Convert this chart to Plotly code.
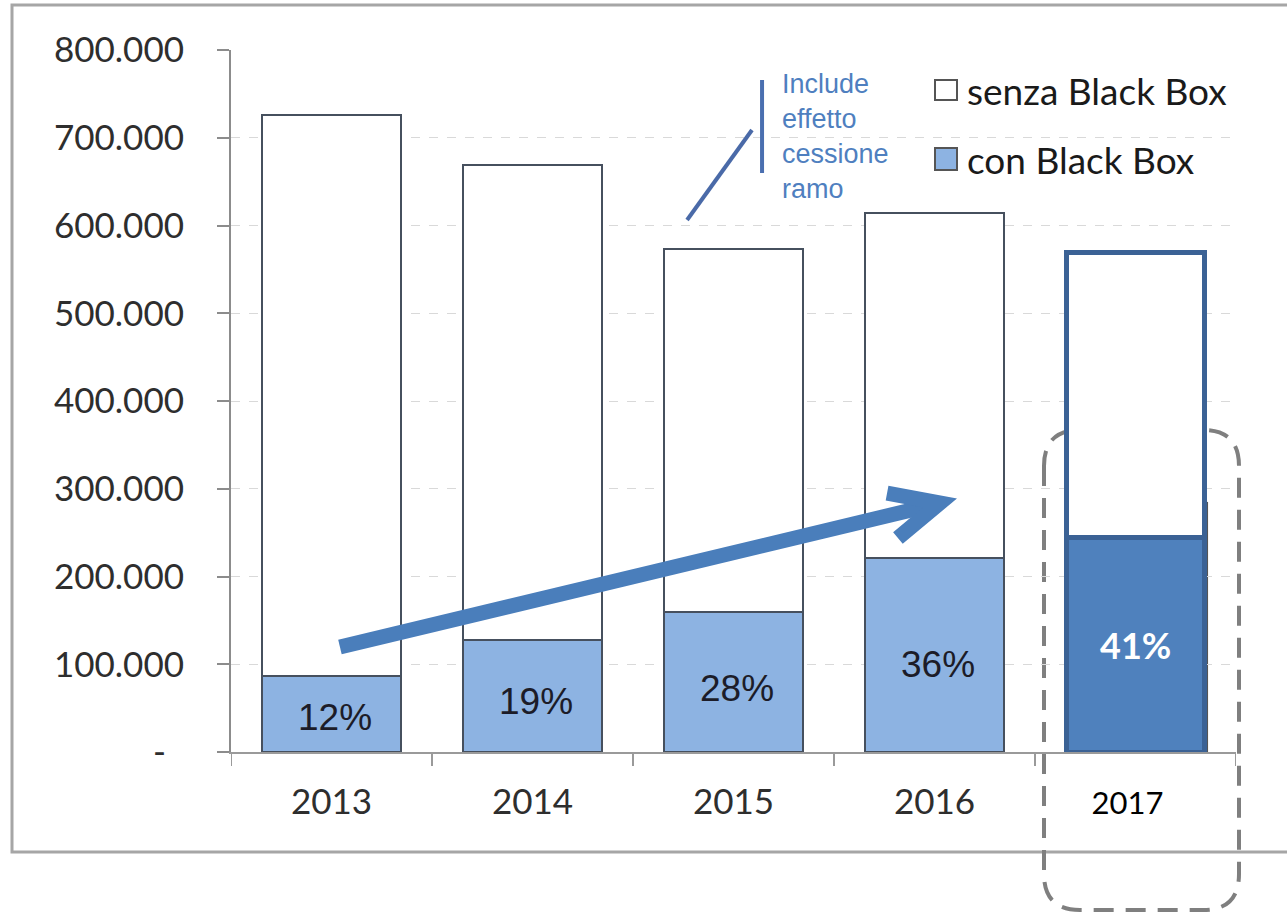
import plotly.graph_objects as go

# ---- data ----
years = ["2013", "2014", "2015", "2016", "2017"]
totale = [726000, 669000, 573000, 614000, 569000]
con_black_box = [87000, 128000, 160000, 221000, 245000]
senza_black_box = [t - c for t, c in zip(totale, con_black_box)]
pct_labels = ["12%", "19%", "28%", "36%", "41%"]
y_tickvals = [0, 100000, 200000, 300000, 400000, 500000, 600000, 700000, 800000]
y_ticktext = ["-\u00a0\u00a0", "100.000", "200.000", "300.000", "400.000",
              "500.000", "600.000", "700.000", "800.000"]
x_ticktext = ["2013", "2014", "2015", "2016",
              '<span style="font-family:Lato;color:#000000;font-size:31px">2017\u00a0\u00a0</span>']
legend_labels = ["senza Black Box", "con Black Box"]
note_text = "Include<br>effetto<br>cessione<br>ramo"

# ---- styles ----
light_blue = "#8db3e2"
dark_blue = "#4f81bd"
edge_gray = "#46505e"
edge_blue = "#3b6295"
arrow_col = "#4a7ebb"
xpos = list(range(len(years)))

fig = go.Figure()
fig.add_trace(go.Bar(
    x=xpos, y=con_black_box, name=legend_labels[1],
    marker=dict(color=[light_blue] * 4 + [dark_blue],
                line=dict(color=[edge_gray] * 4 + [edge_blue], width=[2, 2, 2, 2, 5])),
    hoverinfo="skip", showlegend=False,
))
fig.add_trace(go.Bar(
    x=xpos, y=senza_black_box, name=legend_labels[0],
    marker=dict(color="#ffffff",
                line=dict(color=[edge_gray] * 4 + [edge_blue], width=[2, 2, 2, 2, 5])),
    hoverinfo="skip", showlegend=False,
))

# percentage labels
for i, (lab, v) in enumerate(zip(pct_labels, con_black_box)):
    last = i == len(years) - 1
    fig.add_annotation(
        x=xpos[i], y=v * (0.5 if last else 0.45), text=lab, showarrow=False,
        xshift=0 if last else 3,
        font=dict(family="Lato" if last else "Liberation Sans",
                  size=36 if last else 37,
                  color="#ffffff" if last else "#1c1c28",
                  weight="bold" if last else "normal"),
    )

px = lambda v: (v - 231) / 1005
py = lambda v: (752 - v) / 702

shapes = []
# outer frame
shapes.append(dict(type="rect", xref="paper", yref="paper",
                   x0=px(12), x1=px(1292), y0=py(852), y1=py(5),
                   line=dict(color="#a6a6a6", width=3), layer="below"))
# ghost edge behind 2017 bar
shapes.append(dict(type="line", xref="x", yref="y", x0=4.356, x1=4.356, y0=0, y1=285000,
                   line=dict(color="#555555", width=2), layer="below"))
# big trend arrow
shapes.append(dict(type="line", xref="x", yref="y", x0=0.042, y0=119700, x1=3.0, y1=282000,
                   line=dict(color=arrow_col, width=15)))
shapes.append(dict(type="path", xref="x", yref="y",
                   path="M 2.764 295000 L 3.027 283800 L 2.818 243900",
                   line=dict(color=arrow_col, width=15)))
# note lines
shapes.append(dict(type="line", xref="x", yref="y", x0=2.142, x1=2.142, y0=659800, y1=765800,
                   line=dict(color="#4a6fb0", width=4)))
shapes.append(dict(type="line", xref="x", yref="y", x0=2.092, y0=708800, x1=1.769, y1=606300,
                   line=dict(color="#4a6aa8", width=4)))
# legend boxes
shapes.append(dict(type="rect", xref="paper", yref="paper",
                   x0=px(935), x1=px(957), y0=py(100), y1=py(80),
                   fillcolor="#ffffff", line=dict(color="#555555", width=2)))
shapes.append(dict(type="rect", xref="paper", yref="paper",
                   x0=px(935), x1=px(957), y0=py(170), y1=py(148),
                   fillcolor=light_blue, line=dict(color="#555555", width=2)))
# dashed rounded highlight box around 2017
x0, x1, y0, y1 = px(1044), px(1239), py(430), py(910)
rx, ry = 36 / 1005, 36 / 702
path = (f"M {x0} {y0 - ry} L {x0} {y1 + ry} Q {x0} {y1} {x0 + rx} {y1} "
        f"L {x1 - rx} {y1} Q {x1} {y1} {x1} {y1 + ry} L {x1} {y0 - ry} "
        f"Q {x1} {y0} {x1 - rx} {y0} L {x0 + rx} {y0} Q {x0} {y0} {x0} {y0 - ry} Z")
shapes.append(dict(type="path", xref="paper", yref="paper", path=path,
                   line=dict(color="#7f7f7f", width=4, dash="20px,12px"), layer="below"))

fig.update_layout(shapes=shapes)

# legend texts
fig.add_annotation(xref="paper", yref="paper", x=px(965), y=py(91), xanchor="left",
                   yanchor="middle", text=legend_labels[0], showarrow=False,
                   font=dict(family="Lato", size=37, color="#1a1a1a"))
fig.add_annotation(xref="paper", yref="paper", x=px(965), y=py(160), xanchor="left",
                   yanchor="middle", text=legend_labels[1], showarrow=False,
                   font=dict(family="Lato", size=37, color="#1a1a1a"))
# note
fig.add_annotation(xref="paper", yref="paper", x=px(780), y=py(136), xanchor="left",
                   yanchor="middle", align="left", text=note_text, showarrow=False,
                   font=dict(family="Liberation Sans", size=27, color="#4f7fbf"))

fig.update_layout(
    width=1287, height=914,
    margin=dict(l=231, r=51, t=50, b=162),
    paper_bgcolor="#ffffff", plot_bgcolor="#ffffff",
    barmode="stack", bargap=0.31,
    xaxis=dict(range=[-0.5, 4.5], tickvals=xpos, ticktext=x_ticktext,
               showgrid=False, showline=True, linecolor="#9a9a9a", linewidth=2,
               ticks="", zeroline=False, ticklabelstandoff=18,
               tickfont=dict(family="Lato", size=35, color="#2e2e2e")),
    yaxis=dict(range=[0, 800000], tickvals=y_tickvals, ticktext=y_ticktext,
               showgrid=True, gridcolor="#d9d9d9", griddash="dash", gridwidth=1,
               showline=True, linecolor="#8c8c8c", linewidth=2,
               ticks="outside", ticklen=12, tickcolor="#8c8c8c", tickwidth=2,
               zeroline=False, ticklabelstandoff=26,
               tickfont=dict(family="Lato", size=35, color="#2e2e2e")),
)

# x boundary ticks
for b in [-0.5, 0.5, 1.5, 2.5, 3.5, 4.5]:
    fig.add_shape(type="line", xref="x", yref="paper", x0=b, x1=b, y0=0, y1=-14 / 702,
                  line=dict(color="#9a9a9a", width=2))

fig.write_html("out.html")
